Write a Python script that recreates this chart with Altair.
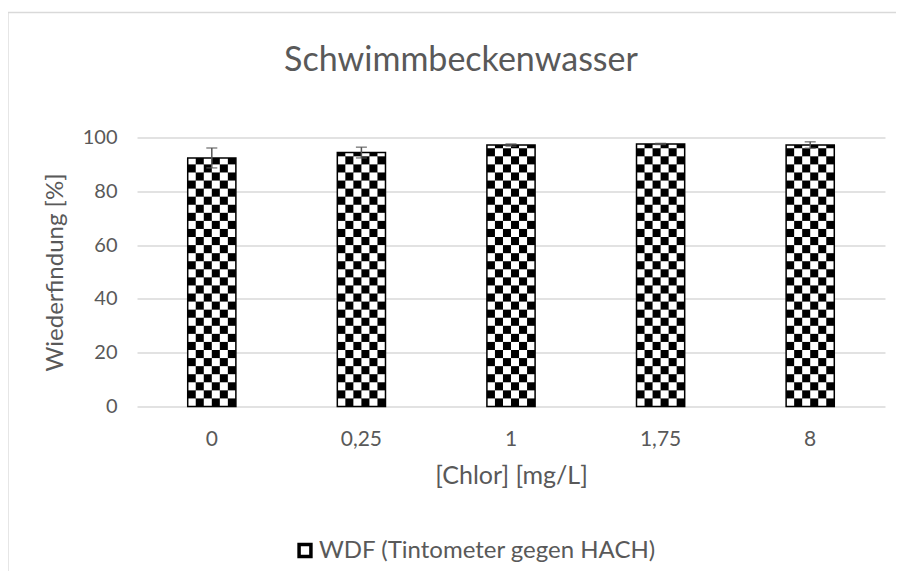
import altair as alt
import pandas as pd
import math

title_text = "Schwimmbeckenwasser"
categories = ["0", "0,25", "1", "1,75", "8"]
values = [92.4, 94.4, 97.2, 97.6, 97.2]
errors = [3.7, 2.0, 0.4, 0.2, 1.2]
series_name = "WDF (Tintometer gegen HACH)"

FONT = "Lato"
TXT = "#595959"
CELL = 3.0
NCOLS = 6

df = pd.DataFrame({"cat": categories, "val": values, "err": errors, "series": series_name})
df["lo"] = df["val"] - df["err"]
df["hi"] = df["val"] + df["err"]

rows = []
for c, v in zip(categories, values):
    nrows = math.ceil(v / CELL)
    for k in range(nrows):
        for col in range(NCOLS):
            if (k + col) % 2 == 0:
                rows.append({"cat": c, "col": col, "y0": k * CELL, "y1": min((k + 1) * CELL, v)})
cells = pd.DataFrame(rows)

xscale = alt.Scale(domain=categories, paddingInner=0.678, paddingOuter=0.339)
xenc = alt.X("cat:N", scale=xscale, sort=categories,
             axis=alt.Axis(title="[Chlor] [mg/L]", labelAngle=0, ticks=False, domain=False,
                           labelPadding=22, titlePadding=14, titleFontSize=25, labelFontSize=21))
yscale = alt.Scale(domain=[0, 100])
yenc = alt.Y("val:Q", scale=yscale,
             axis=alt.Axis(title="Wiederfindung [%]", values=[0, 20, 40, 60, 80, 100],
                           ticks=False, domain=False, labelPadding=20, titlePadding=15,
                           titleFontSize=24, gridColor="#d9d9d9", gridWidth=1.3))

black = alt.Chart(df).mark_bar(color="black").encode(x=xenc, y=yenc)

white = alt.Chart(cells).mark_rect(color="white").encode(
    x=alt.X("cat:N", scale=xscale, sort=categories),
    xOffset=alt.XOffset("col:O", scale=alt.Scale(paddingInner=0, paddingOuter=0)),
    y=alt.Y("y0:Q", scale=yscale),
    y2="y1:Q",
)

outline = alt.Chart(df).mark_bar(fill="white", fillOpacity=0, strokeWidth=1.5).encode(
    x=alt.X("cat:N", scale=xscale, sort=categories),
    y=alt.Y("val:Q", scale=yscale),
    stroke=alt.Stroke("series:N", scale=alt.Scale(range=["black"]),
                      legend=alt.Legend(title=None, orient="none", legendX=156, legendY=401,
                                        symbolType="square", symbolSize=140, symbolStrokeWidth=3.5,
                                        symbolFillColor="white", labelLimit=0,
                                        labelFont=FONT, labelFontSize=24, labelColor=TXT,
                                        labelOffset=2)),
)

err_rule = alt.Chart(df).mark_rule(color="#555555", strokeWidth=1.5).encode(
    x=alt.X("cat:N", scale=xscale, sort=categories),
    y=alt.Y("lo:Q", scale=yscale), y2="hi:Q")
err_hi = alt.Chart(df).mark_tick(color="#555555", size=11, thickness=1.5, orient="horizontal").encode(
    x=alt.X("cat:N", scale=xscale, sort=categories), y=alt.Y("hi:Q", scale=yscale))
err_lo = alt.Chart(df).mark_tick(color="#555555", size=11, thickness=1.5, orient="horizontal").encode(
    x=alt.X("cat:N", scale=xscale, sort=categories), y=alt.Y("lo:Q", scale=yscale))

border = alt.Chart(df.head(1)).mark_rect(fill="transparent", stroke="#d9d9d9", strokeWidth=1.3,
                                          clip=False).encode(
    x=alt.value(-129), x2=alt.value(900), y=alt.value(-125), y2=alt.value(600))

title = alt.Chart(df.head(1)).mark_text(font=FONT, fontSize=34, color=TXT, align="center",
                                         baseline="middle").encode(
    x=alt.value(324), y=alt.value(-77), text=alt.value(title_text))

chart = alt.layer(border, title, black, white, outline, err_rule, err_hi, err_lo).properties(
    width=748, height=269,
    autosize=alt.AutoSizeParams(type="none"),
    padding={"left": 129, "top": 129.5, "right": 11, "bottom": 164},
).configure_view(stroke=None).configure_axis(
    labelFont=FONT, labelFontSize=20, labelColor=TXT,
    titleFont=FONT, titleFontSize=20, titleColor=TXT, titleFontWeight="normal",
).configure_axisX(grid=False)

chart.save("out.html", embed_options={"renderer": "svg", "actions": False})
